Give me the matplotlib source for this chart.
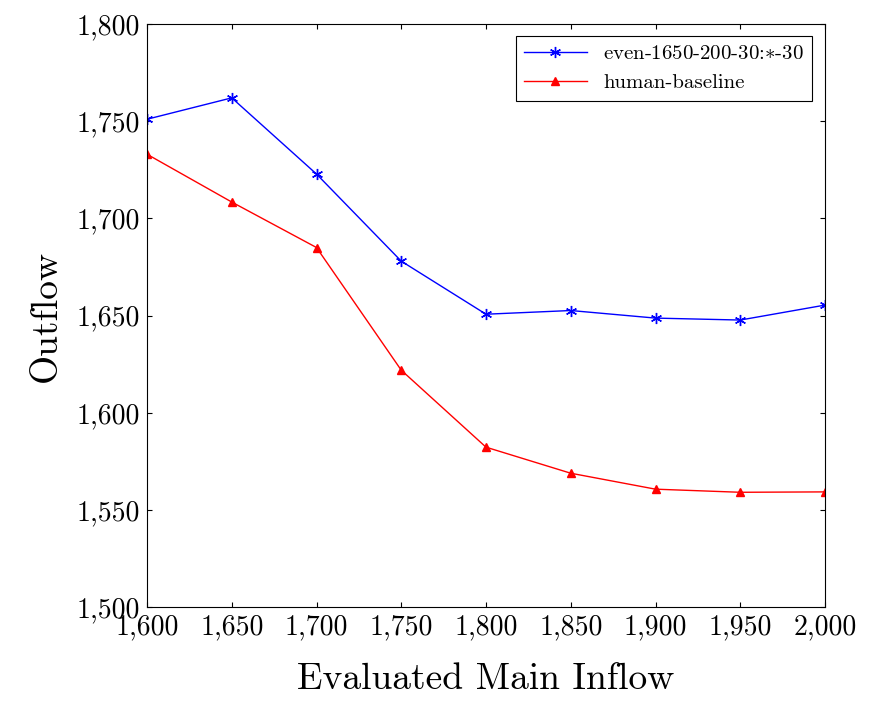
import matplotlib
matplotlib.use("Agg")
import matplotlib.pyplot as plt
from matplotlib.ticker import FuncFormatter

plt.rcParams["font.family"] = "serif"
plt.rcParams["font.serif"] = ["cmr10", "DejaVu Serif"]
plt.rcParams["mathtext.fontset"] = "cm"
plt.rcParams["axes.formatter.use_mathtext"] = True

inflow = [1600, 1650, 1700, 1750, 1800, 1850, 1900, 1950, 2000]
even_series = [1751, 1762, 1722.8, 1678, 1650.7, 1652.6, 1648.7, 1647.7, 1655.4]
human_series = [1733, 1708.4, 1685, 1621.9, 1582.3, 1568.9, 1560.7, 1559.1, 1559.3]

fig = plt.figure(figsize=(8.72, 7.16), dpi=100)
ax = fig.add_axes([0.1686, 0.152, 0.7775, 0.8145])
ax.plot(inflow, even_series, color="blue", marker=(6, 2, 0), markersize=8, lw=1,
        label="even-1650-200-30:$\\ast$-30")
ax.plot(inflow, human_series, color="red", marker="^", markersize=6, lw=1,
        label="human-baseline")
ax.set_xlim(1600, 2000)
ax.set_ylim(1500, 1800)
ax.set_xticks(inflow)
ax.set_yticks(range(1500, 1801, 50))
fmt = FuncFormatter(lambda v, p: f"{int(v):,}")
ax.xaxis.set_major_formatter(fmt)
ax.yaxis.set_major_formatter(fmt)
ax.tick_params(direction="in", labelsize=20, top=True, right=True, pad=5)
ax.set_xlabel("Evaluated Main Inflow", fontsize=27, labelpad=16)
ax.set_ylabel("Outflow", fontsize=27, labelpad=10)
leg = ax.legend(loc="upper right", fontsize=15, fancybox=False, edgecolor="black",
                framealpha=1, borderaxespad=0.6, handlelength=3)
leg.get_frame().set_linewidth(0.8)
fig.savefig("out.png", dpi=100)
